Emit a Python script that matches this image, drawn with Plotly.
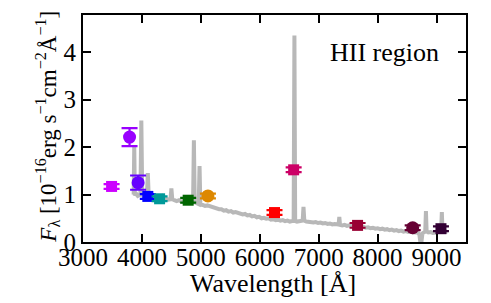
import plotly.graph_objects as go

# Spectrum
spec_wl = [3860, 3870, 3880, 3900, 3930, 3960, 3975, 3990, 4005, 4030, 4060, 4085, 4100, 4115,
           4150, 4190, 4230, 4270, 4310, 4340, 4370, 4410, 4450, 4485, 4500, 4515, 4550, 4590,
           4630, 4670, 4710, 4750, 4790, 4830, 4868, 4882, 4896, 4930, 4964, 4978, 4992, 5030,
           5070, 5110, 5150, 5190, 5230, 5270, 5310, 5350, 5390, 5430, 5470, 5510, 5550, 5590,
           5630, 5670, 5710, 5750, 5790, 5830, 5870, 5910, 5950, 5990, 6030, 6070, 6110, 6150,
           6190, 6230, 6270, 6310, 6350, 6390, 6430, 6470, 6510, 6550, 6575, 6588, 6601, 6630,
           6670, 6710, 6728, 6742, 6756, 6790, 6830, 6870, 6910, 6950, 6990, 7030, 7070, 7110,
           7150, 7190, 7230, 7270, 7310, 7338, 7350, 7362, 7400, 7440, 7480, 7520, 7560, 7600,
           7640, 7680, 7720, 7760, 7800, 7840, 7880, 7920, 7960, 8000, 8040, 8080, 8120, 8160,
           8200, 8240, 8280, 8320, 8360, 8400, 8440, 8480, 8520, 8560, 8600, 8640, 8680, 8710,
           8735, 8760, 8790, 8808, 8820, 8832, 8860, 8900, 8940, 8980, 9020, 9060, 9078, 9090,
           9102, 9140, 9180]
spec_flux = [1.00, 2.03, 0.98, 1.02, 0.97, 1.00, 1.00, 2.56, 1.00, 0.96, 0.98, 0.97, 1.45, 0.96,
             0.95, 0.93, 0.94, 0.91, 0.92, 0.96, 0.90, 0.91, 0.89, 0.90, 1.13, 0.90, 0.88, 0.86,
             0.88, 0.85, 0.86, 0.84, 0.85, 0.83, 0.84, 2.14, 0.84, 0.82, 0.80, 1.60, 0.79, 0.78,
             0.76, 0.77, 0.75, 0.73, 0.72, 0.71, 0.69, 0.69, 0.66, 0.67, 0.64, 0.65, 0.62, 0.63,
             0.61, 0.61, 0.58, 0.59, 0.56, 0.57, 0.54, 0.55, 0.52, 0.53, 0.50, 0.51, 0.49, 0.50,
             0.47, 0.48, 0.46, 0.47, 0.45, 0.46, 0.44, 0.45, 0.43, 0.44, 0.44, 4.35, 0.44, 0.43,
             0.44, 0.45, 0.45, 0.74, 0.45, 0.43, 0.42, 0.43, 0.41, 0.42, 0.40, 0.41, 0.39, 0.40,
             0.38, 0.39, 0.37, 0.38, 0.37, 0.37, 0.53, 0.36, 0.35, 0.36, 0.34, 0.35, 0.33, 0.34,
             0.32, 0.33, 0.31, 0.32, 0.30, 0.31, 0.29, 0.30, 0.28, 0.29, 0.27, 0.28, 0.26, 0.27,
             0.25, 0.26, 0.24, 0.25, 0.23, 0.24, 0.22, 0.23, 0.21, 0.22, 0.20, 0.21, 0.20, 0.15,
             -0.10, 0.18, 0.20, 0.22, 0.65, 0.22, 0.20, 0.21, 0.19, 0.20, 0.21, 0.22, 0.22, 0.63,
             0.22, 0.21, 0.22]

# Photometry
filters = ["uJAVA", "J0378", "J0395", "J0410", "J0430", "gSDSS", "J0515", "rSDSS", "J0660",
           "iSDSS", "J0861", "zSDSS"]
phot_wl = [3485, 3790, 3935, 4100, 4300, 4785, 5120, 6250, 6575, 7660, 8595, 9075]
phot_flux = [1.17, 2.21, 1.25, 0.96, 0.91, 0.88, 0.97, 0.62, 1.52, 0.35, 0.30, 0.28]
phot_err = [0.05, 0.19, 0.15, 0.05, 0.05, 0.05, 0.05, 0.05, 0.05, 0.05, 0.05, 0.05]
phot_color = ["#CC00FF", "#9900FF", "#6600FF", "#0000FF", "#009999", "#006600", "#DD8800",
              "#FF0000", "#CC0066", "#990033", "#660033", "#330034"]
phot_symbol = ["square", "circle", "circle", "square", "square", "square", "circle",
               "square", "square", "square", "circle", "square"]

x_ticks = [3000, 4000, 5000, 6000, 7000, 8000, 9000]
y_ticks = [0, 1, 2, 3, 4]

FONT = "Liberation Serif"

fig = go.Figure()
fig.add_trace(go.Scatter(x=spec_wl, y=spec_flux, mode="lines",
                         line=dict(color="#b8b8b8", width=4), hoverinfo="skip"))
for w, f, e, c, s in zip(phot_wl, phot_flux, phot_err, phot_color, phot_symbol):
    fig.add_trace(go.Scatter(
        x=[w], y=[f], mode="markers",
        marker=dict(color=c, symbol=s, size=13 if s == "circle" else 11, line=dict(width=0)),
        error_y=dict(type="data", array=[e], color=c, thickness=2.2, width=8),
    ))

axis_common = dict(showline=True, linecolor="black", linewidth=2, mirror="ticks",
                   ticks="inside", ticklen=8, tickwidth=1.5, tickcolor="black",
                   showgrid=False, zeroline=False, automargin=False,
                   tickfont=dict(family=FONT, size=25, color="black"))

# page body has an 8px default margin, so the figure is sized to fit the window
fig.update_layout(
    width=483, height=295,
    margin=dict(l=75, r=25, t=7, b=61),
    paper_bgcolor="white", plot_bgcolor="white",
    showlegend=False,
    xaxis=dict(range=[3000, 9500], tickvals=x_ticks, ticktext=[str(t) for t in x_ticks],
               ticklabelstandoff=-8, **axis_common),
    yaxis=dict(range=[0, 4.78], tickvals=y_ticks, ticktext=[str(t) for t in y_ticks],
               **axis_common),
    annotations=[
        dict(text="HII region", xref="paper", yref="paper", x=0.935, y=0.833,
             xanchor="right", yanchor="middle", showarrow=False,
             font=dict(family=FONT, size=26, color="black")),
        dict(text="Wavelength [Å]", xref="paper", yref="paper", x=0.496, y=-0.182,
             xanchor="center", yanchor="middle", showarrow=False,
             font=dict(family=FONT, size=26, color="black")),
        dict(text="<i>F</i><sub>λ</sub> [10<sup>−16</sup>erg s<sup>−1</sup>cm<sup>−2</sup>Å<sup>−1</sup>]",
             xref="paper", yref="paper", x=-0.092, y=0.507, textangle=-90,
             xanchor="center", yanchor="middle", showarrow=False,
             font=dict(family=FONT, size=23, color="black")),
    ],
)

fig.write_html("out.html")
